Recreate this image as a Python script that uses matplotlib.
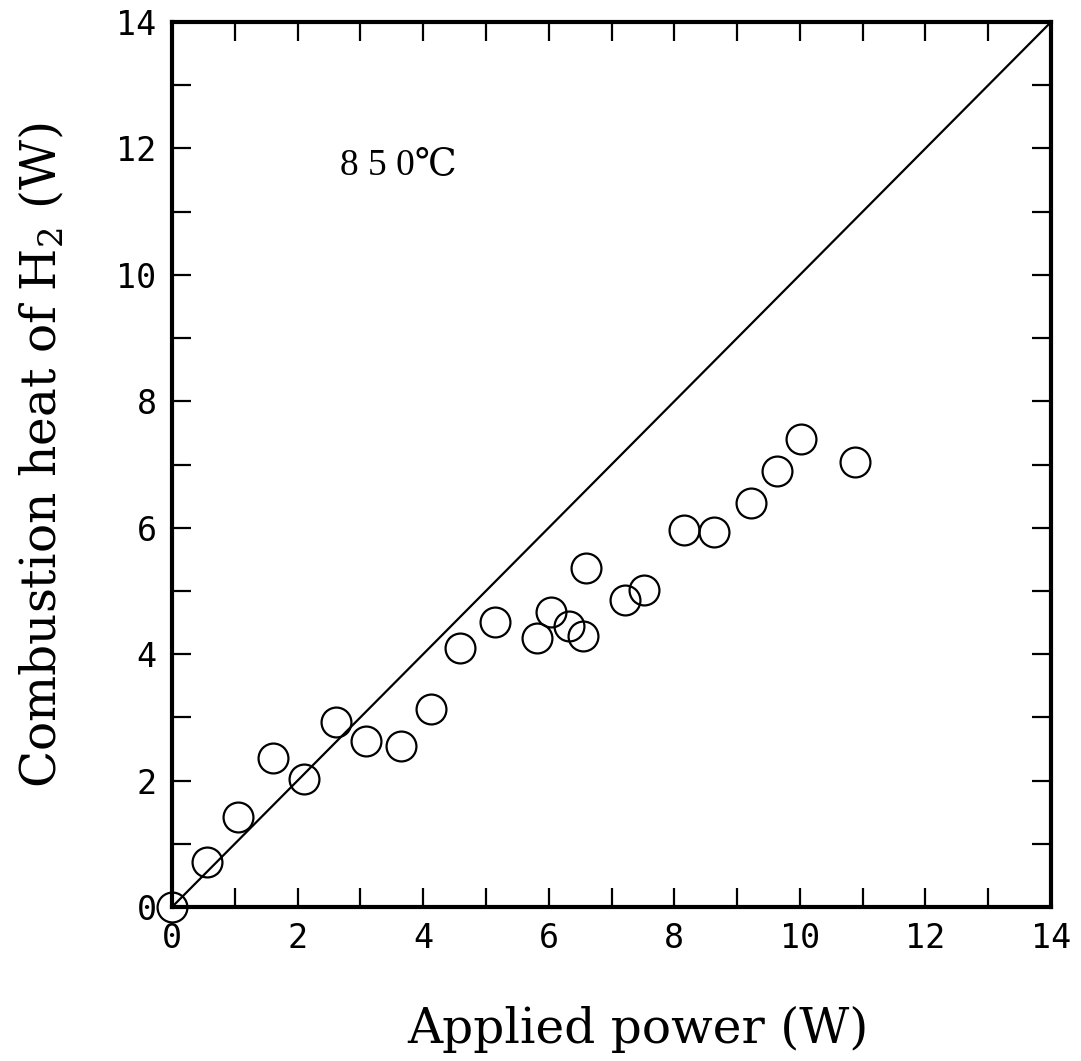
import matplotlib
matplotlib.use("Agg")
import matplotlib.pyplot as plt
import numpy as np

plt.rcParams['mathtext.fontset'] = 'dejavuserif'

# Data
applied_power = [0.00, 0.56, 1.05, 1.61, 2.11, 2.62, 3.09, 3.64, 4.13,
                 4.58, 5.15, 5.82, 6.04, 6.32, 6.54, 6.60, 7.21, 7.51,
                 8.15, 8.63, 9.22, 9.63, 10.02, 10.88]
combustion_heat = [0.00, 0.72, 1.43, 2.35, 2.03, 2.92, 2.62, 2.54, 3.13,
                   4.09, 4.51, 4.26, 4.67, 4.44, 4.28, 5.37, 4.85, 5.01,
                   5.96, 5.93, 6.39, 6.90, 7.41, 7.04]
ideal_line = [0, 14]
tick_values = [0, 2, 4, 6, 8, 10, 12, 14]
x_label = "Applied power (W)"
y_label = "Combustion heat of H$_2$ (W)"
annotation = "8 5 0\u2103"

fig = plt.figure(figsize=(10.81, 10.61), dpi=100)
ax = fig.add_axes([0.1591, 0.1451, 0.8132, 0.8342])

ax.plot(ideal_line, ideal_line, color="black", lw=1.6, zorder=2)
ax.plot(applied_power, combustion_heat, linestyle="none", marker="o",
        markersize=21.5, markerfacecolor="none", markeredgecolor="black",
        markeredgewidth=1.6, clip_on=False, zorder=3)

ax.set_xlim(0, 14)
ax.set_ylim(0, 14)
ax.set_xticks(tick_values)
ax.set_yticks(tick_values)
ax.set_xticks(np.arange(0, 15, 1), minor=True)
ax.set_yticks(np.arange(0, 15, 1), minor=True)
ax.set_xticklabels([str(v) for v in tick_values])
ax.set_yticklabels([str(v) for v in tick_values])

for which in ("major", "minor"):
    ax.tick_params(which=which, direction="in", length=14, width=1.6,
                   top=True, right=True, bottom=True, left=True)
ax.tick_params(axis="x", which="major", pad=11)
ax.tick_params(axis="y", which="major", pad=11)
for lab in ax.get_xticklabels() + ax.get_yticklabels():
    lab.set_fontfamily("DejaVu Sans Mono")
    lab.set_fontsize(24)

for sp in ax.spines.values():
    sp.set_linewidth(3.0)

ax.set_xlabel(x_label, fontfamily="DejaVu Serif", fontsize=35)
ax.set_ylabel(y_label, fontfamily="DejaVu Serif", fontsize=35)
ax.xaxis.set_label_coords(0.53, -0.112)
ax.yaxis.set_label_coords(-0.12, 0.51)

ax.text(2.68, 11.74, annotation, fontfamily=["Liberation Serif", "DejaVu Serif"],
        fontsize=27, ha="left", va="center")

fig.savefig("out.png", dpi=100)
